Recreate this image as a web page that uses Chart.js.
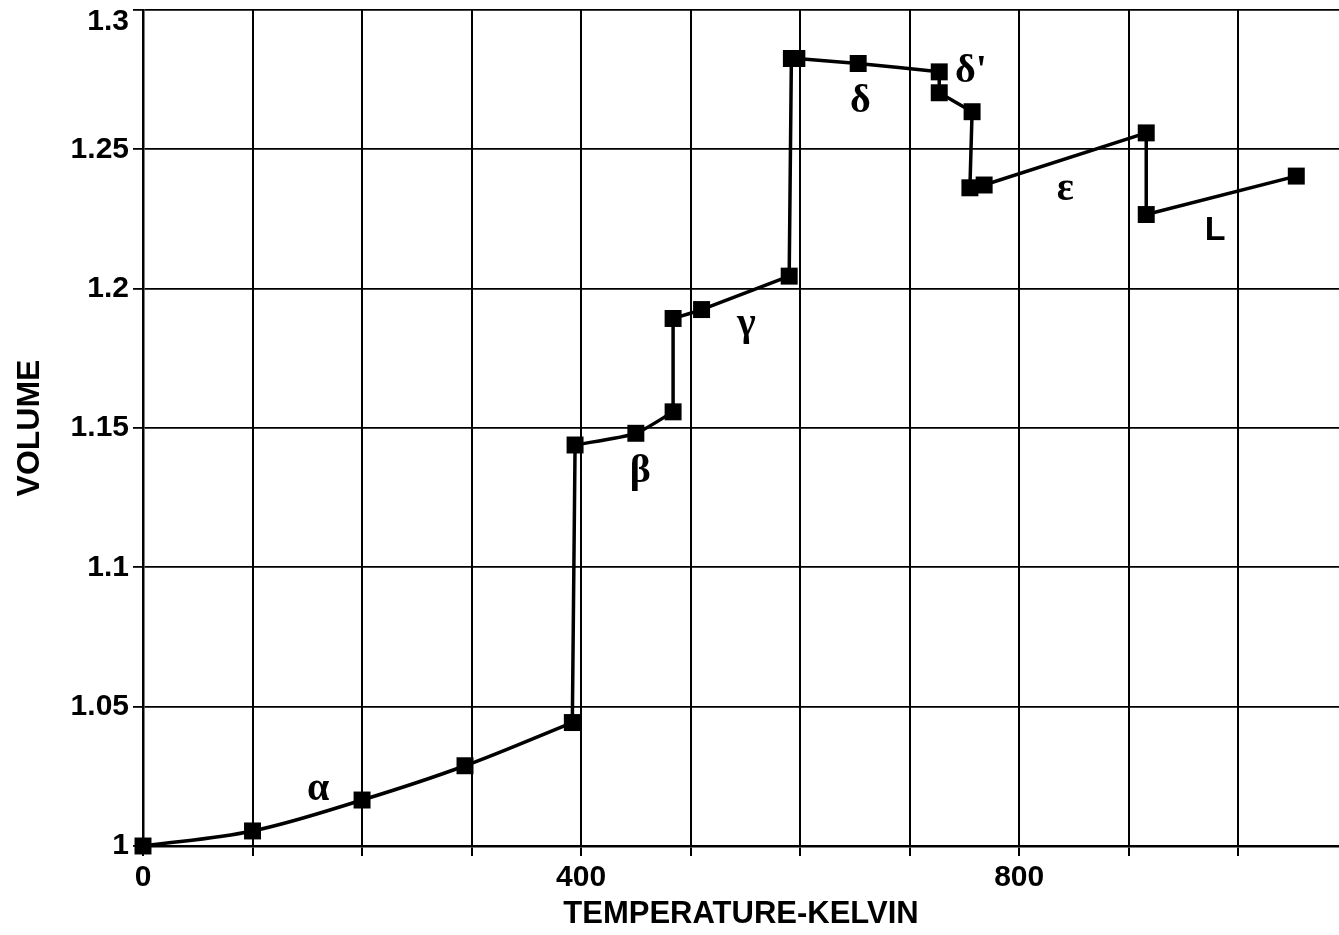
<!DOCTYPE html>
<html>
<head>
<meta charset="utf-8">
<title>Volume vs temperature</title>
<script src="https://cdn.jsdelivr.net/npm/chart.js@4"></script>
<style>
  html, body { margin: 0; padding: 0; background: #fff; overflow: hidden; }
  #wrap { width: 1339px; height: 935px; overflow: hidden; }
  canvas { display: block; }
</style>
</head>
<body>
<div id="wrap"><canvas id="grafico"></canvas></div>
<script>
// phases: temperature (K) and relative volume
var alphaT = [0, 100, 200, 294, 392];
var alphaV = [1.000, 1.0054, 1.0165, 1.0288, 1.0443];
var betaT = [394.5, 450, 484];
var betaV = [1.1439, 1.1481, 1.1558];
var gammaT = [484, 510, 590];
var gammaV = [1.1893, 1.1925, 1.2045];
var deltaT = [592, 597, 653, 727];
var deltaV = [1.2826, 1.2826, 1.2808, 1.2778];
var deltaPT = [727, 757];
var deltaPV = [1.2703, 1.2635];
var epsT = [755, 768, 916];
var epsV = [1.2362, 1.2372, 1.2559];
var liqT = [916, 1053];
var liqV = [1.2266, 1.2404];

// phase names written on the plot
var faseTexto = ['α', 'β', 'γ', 'δ', "δ'", 'ε', 'L'];
var faseT = [160, 454, 551, 655, 756, 842, 979];
var faseV = [1.0201, 1.1342, 1.187, 1.267, 1.2777, 1.2354, 1.221];

// axis ticks
var xTicks = [0, 100, 200, 300, 400, 500, 600, 700, 800, 900, 1000];
var xLabels = ['0', '', '', '', '400', '', '', '', '800', '', ''];
var yTicks = [1, 1.05, 1.1, 1.15, 1.2, 1.25, 1.3];
var yLabels = ['1', '1.05', '1.1', '1.15', '1.2', '1.25', '1.3'];

var fases = [
  [alphaT, alphaV, 0.35],
  [betaT, betaV, 0.2],
  [gammaT, gammaV, 0.2],
  [deltaT, deltaV, 0.25],
  [deltaPT, deltaPV, 0],
  [epsT, epsV, 0],
  [liqT, liqV, 0]
];

function puntos(t, v) {
  return t.map(function(x, i) { return {x: x, y: v[i]}; });
}

var datasets = [];

// vertical jumps between phases, built from the phase ends
var saltos = [];
for (var i = 0; i < fases.length - 1; i++) {
  var a = fases[i], b = fases[i + 1];
  saltos.push({x: a[0][a[0].length - 1], y: a[1][a[1].length - 1]});
  saltos.push({x: b[0][0], y: b[1][0]});
  saltos.push({x: b[0][0], y: null});
}
datasets.push({
  data: saltos,
  borderColor: '#000',
  borderWidth: 3.5,
  pointRadius: 0,
  tension: 0,
  spanGaps: false
});

fases.forEach(function(f) {
  datasets.push({
    data: puntos(f[0], f[1]),
    borderColor: '#000',
    backgroundColor: '#000',
    borderWidth: 3.5,
    pointStyle: 'rect',
    pointRadius: 12,
    pointBorderWidth: 0,
    pointBackgroundColor: '#000',
    tension: f[2],
    clip: false
  });
});

var fuente = '"Liberation Sans", Arial, sans-serif';

var etiquetas = {
  id: 'etiquetas',
  afterDatasetsDraw: function(chart) {
    var ctx = chart.ctx;
    var xs = chart.scales.x, ys = chart.scales.y;
    ctx.save();
    ctx.fillStyle = '#000';
    ctx.textAlign = 'center';
    ctx.textBaseline = 'middle';
    faseTexto.forEach(function(txt, i) {
      if (txt === 'L') ctx.font = 'bold 34px ' + fuente;
      else ctx.font = 'bold 40px "Liberation Serif", "Times New Roman", serif';
      ctx.fillText(txt, xs.getPixelForValue(faseT[i]), ys.getPixelForValue(faseV[i]));
    });
    // top y label sits just under its line, as in the original print
    var top = yTicks.length - 1;
    ctx.font = 'bold 30px ' + fuente;
    ctx.textAlign = 'right';
    ctx.fillText(yLabels[top], ys.left + ys.width - 14, ys.getPixelForValue(yTicks[top]) + 12);
    ctx.restore();
  }
};

var config = {
  type: 'line',
  data: { datasets: datasets },
  options: {
    responsive: true,
    maintainAspectRatio: false,
    animation: false,
    layout: { autoPadding: false, padding: { top: 10, right: 0, bottom: 0, left: 0 } },
    plugins: {
      legend: { display: false },
      tooltip: { enabled: false }
    },
    scales: {
      x: {
        type: 'linear',
        min: 0,
        max: 1092,
        afterBuildTicks: function(scale) {
          scale.ticks = xTicks.map(function(v) { return {value: v}; });
        },
        afterFit: function(scale) {
          scale.height = 89;
          scale.paddingLeft = 0;
          scale.paddingRight = 0;
        },
        ticks: {
          autoSkip: false,
          maxRotation: 0,
          padding: 4,
          color: '#000',
          font: { family: fuente, size: 30, weight: 'bold' },
          callback: function(v) {
            var k = xTicks.indexOf(v);
            return k >= 0 ? xLabels[k] : '';
          }
        },
        grid: { color: '#000', lineWidth: 2, tickLength: 10 },
        border: { color: '#000', width: 2.5 },
        title: {
          display: true,
          text: 'TEMPERATURE-KELVIN',
          color: '#000',
          font: { family: fuente, size: 31, weight: 'bold' },
          padding: { top: 0, bottom: 2 }
        }
      },
      y: {
        type: 'linear',
        min: 1,
        max: 1.3,
        afterBuildTicks: function(scale) {
          scale.ticks = yTicks.map(function(v) { return {value: v}; });
        },
        afterFit: function(scale) {
          scale.width = 143;
          scale.paddingTop = 0;
          scale.paddingBottom = 0;
        },
        ticks: {
          padding: 4,
          color: '#000',
          font: { family: fuente, size: 30, weight: 'bold' },
          callback: function(v) {
            // the top label is drawn by the plugin
            for (var k = 0; k < yTicks.length - 1; k++) {
              if (Math.abs(yTicks[k] - v) < 1e-6) return yLabels[k];
            }
            return '';
          }
        },
        grid: { color: '#000', lineWidth: 1.8, tickLength: 10 },
        border: { color: '#000', width: 2.5 },
        title: {
          display: true,
          text: 'VOLUME',
          color: '#000',
          font: { family: fuente, size: 32, weight: 'bold' },
          padding: { top: 11, bottom: 0 }
        }
      }
    }
  },
  plugins: [etiquetas]
};

window.onload = function() {
  window.miGrafico = new Chart(document.getElementById('grafico'), config);
};
</script>
</body>
</html>
